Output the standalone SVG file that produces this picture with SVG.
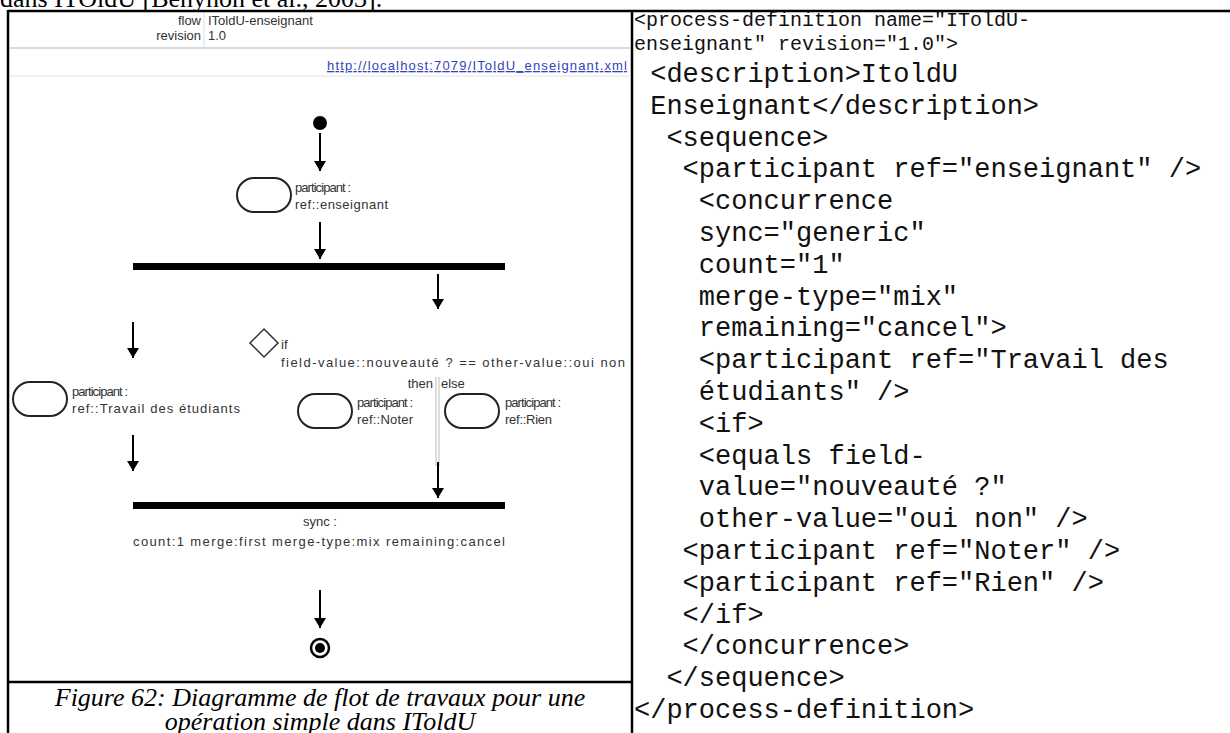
<svg xmlns="http://www.w3.org/2000/svg" width="1230" height="733" viewBox="0 0 1230 733">
<style>
.ui{font-family:"Liberation Sans","DejaVu Sans",sans-serif;font-size:13px;fill:#333}
.code{font-family:"Liberation Mono","Courier New",monospace;font-size:27px;fill:#111;white-space:pre}
.code.sm{font-size:20px}
.cap{font-family:"Liberation Serif","Times New Roman",serif;font-style:italic;font-size:26px;fill:#000}
.oval{fill:#fff;stroke:#222;stroke-width:2}
.bar{fill:#000}
.conn line{stroke:#000;stroke-width:2}
</style>
<defs>
<marker id="ah" viewBox="0 0 10 12" refX="10" refY="6" markerWidth="10" markerHeight="12" markerUnits="userSpaceOnUse" orient="auto">
<path d="M0,0 L10,6 L0,12 z" fill="#000"/>
</marker>
</defs>
<rect width="1230" height="733" fill="#fff"/>
<text x="0" y="7" style="font-family:'Liberation Serif',serif;font-size:26px">dans ITOldU [Benyhon et al., 2003].</text>
<g id="frame" stroke="#000" stroke-width="2.5" fill="none">
<line x1="8" y1="11" x2="1230" y2="11"/>
<line x1="8" y1="10" x2="8" y2="733"/>
<line x1="632" y1="10" x2="632" y2="733"/>
<line x1="8" y1="682" x2="632" y2="682"/>
</g>
<g id="header">
<line x1="204" y1="13" x2="204" y2="47" stroke="#d8e0e8" stroke-width="1"/>
<line x1="10" y1="48" x2="630" y2="48" stroke="#ccc" stroke-width="1.5"/>
<line x1="10" y1="76" x2="630" y2="76" stroke="#e4e4e4" stroke-width="1"/>
<text class="ui" x="201" y="25" text-anchor="end">flow</text>
<text class="ui" x="208" y="25">IToldU-enseignant</text>
<text class="ui" x="201" y="40" text-anchor="end">revision</text>
<text class="ui" x="208" y="40">1.0</text>
<text class="ui" x="327" y="70" textLength="300" style="fill:#3344bb;text-decoration:underline">http://localhost:7079/IToldU_enseignant.xml</text>
</g>
<g id="start"><circle cx="320" cy="123" r="7" fill="#000"/></g>
<g id="p-enseignant">
<rect class="oval" x="237" y="178" width="54" height="34" rx="17"/>
<text class="ui" x="295" y="192" textLength="56">participant :</text>
<text class="ui" x="295" y="209" textLength="93">ref::enseignant</text>
</g>
<g id="fork"><rect class="bar" x="133" y="263" width="372" height="7"/></g>
<g id="p-travail">
<rect class="oval" x="13" y="382" width="54" height="34" rx="17"/>
<text class="ui" x="72" y="396" textLength="56">participant :</text>
<text class="ui" x="72" y="413" textLength="168">ref::Travail des étudiants</text>
</g>
<g id="if">
<path d="M264,329 L278,343 L264,357 L250,343 z" fill="#fff" stroke="#333" stroke-width="1.5"/>
<text class="ui" x="281" y="349">if</text>
<text class="ui" x="281" y="367" textLength="344">field-value::nouveauté ? == other-value::oui non</text>
<text class="ui" x="433" y="388" text-anchor="end">then</text>
<text class="ui" x="441" y="388">else</text>
<line x1="436" y1="377" x2="436" y2="466" stroke="#bbb" stroke-width="1"/>
<line x1="439" y1="377" x2="439" y2="466" stroke="#bbb" stroke-width="1"/>
</g>
<g id="p-noter">
<rect class="oval" x="298" y="394" width="54" height="34" rx="17"/>
<text class="ui" x="357" y="407" textLength="56">participant :</text>
<text class="ui" x="357" y="424" textLength="56">ref::Noter</text>
</g>
<g id="p-rien">
<rect class="oval" x="445" y="394" width="54" height="34" rx="17"/>
<text class="ui" x="505" y="407" textLength="56">participant :</text>
<text class="ui" x="505" y="424" textLength="47">ref::Rien</text>
</g>
<g id="join">
<rect class="bar" x="133" y="502" width="372" height="7"/>
<text class="ui" x="320" y="526" text-anchor="middle">sync :</text>
<text class="ui" x="133" y="546" textLength="372">count:1 merge:first merge-type:mix remaining:cancel</text>
</g>
<g id="end">
<circle cx="320" cy="648" r="9" fill="none" stroke="#000" stroke-width="2.5"/>
<circle cx="320" cy="648" r="5" fill="#000"/>
</g>
<g id="connectors" class="conn">
<line x1="320" y1="133" x2="320" y2="171" marker-end="url(#ah)"/>
<line x1="320" y1="222" x2="320" y2="259" marker-end="url(#ah)"/>
<line x1="438" y1="274" x2="438" y2="309" marker-end="url(#ah)"/>
<line x1="133" y1="322" x2="133" y2="358" marker-end="url(#ah)"/>
<line x1="133" y1="435" x2="133" y2="471" marker-end="url(#ah)"/>
<line x1="438" y1="462" x2="438" y2="498" marker-end="url(#ah)"/>
<line x1="320" y1="590" x2="320" y2="628" marker-end="url(#ah)"/>
</g>
<g id="caption">
<text class="cap" x="320" y="706" text-anchor="middle">Figure 62: Diagramme de flot de travaux pour une</text>
<text class="cap" x="320" y="730" text-anchor="middle">opération simple dans IToldU</text>
</g>
<g id="code">
<text class="code sm" x="634" y="26">&lt;process-definition name="IToldU-</text>
<text class="code sm" x="634" y="50">enseignant" revision="1.0"&gt;</text>
<text class="code" x="634" y="82"> &lt;description&gt;ItoldU</text>
<text class="code" x="634" y="114"> Enseignant&lt;/description&gt;</text>
<text class="code" x="634" y="146">  &lt;sequence&gt;</text>
<text class="code" x="634" y="177">   &lt;participant ref="enseignant" /&gt;</text>
<text class="code" x="634" y="209">    &lt;concurrence</text>
<text class="code" x="634" y="241">    sync="generic"</text>
<text class="code" x="634" y="273">    count="1"</text>
<text class="code" x="634" y="305">    merge-type="mix"</text>
<text class="code" x="634" y="336">    remaining="cancel"&gt;</text>
<text class="code" x="634" y="368">    &lt;participant ref="Travail des</text>
<text class="code" x="634" y="400">    étudiants" /&gt;</text>
<text class="code" x="634" y="432">    &lt;if&gt;</text>
<text class="code" x="634" y="464">    &lt;equals field-</text>
<text class="code" x="634" y="495">    value="nouveauté ?"</text>
<text class="code" x="634" y="527">    other-value="oui non" /&gt;</text>
<text class="code" x="634" y="559">   &lt;participant ref="Noter" /&gt;</text>
<text class="code" x="634" y="591">   &lt;participant ref="Rien" /&gt;</text>
<text class="code" x="634" y="623">   &lt;/if&gt;</text>
<text class="code" x="634" y="654">   &lt;/concurrence&gt;</text>
<text class="code" x="634" y="686">  &lt;/sequence&gt;</text>
<text class="code" x="634" y="718">&lt;/process-definition&gt;</text>
</g>
</svg>
